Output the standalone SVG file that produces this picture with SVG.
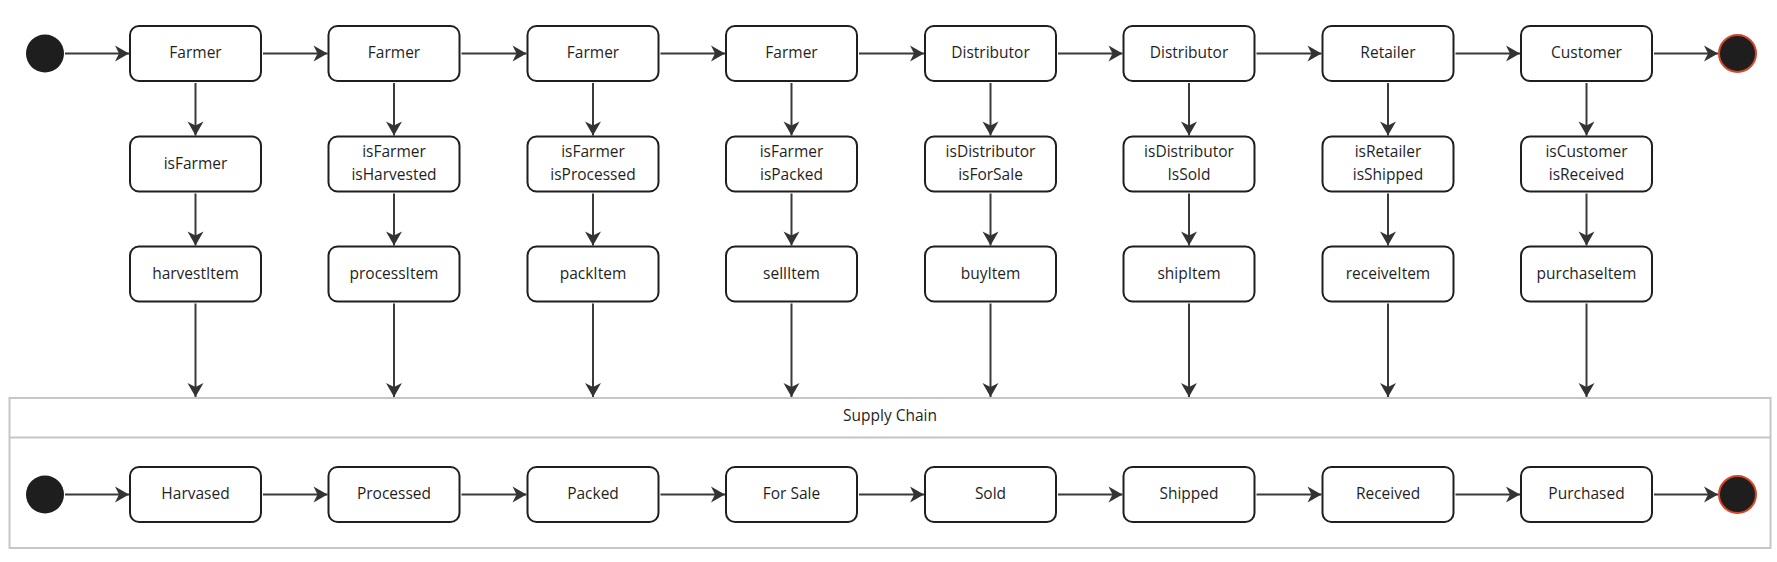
<svg xmlns="http://www.w3.org/2000/svg" width="1777" height="562" viewBox="0 0 1777 562">
<style>
.box{fill:#fff;stroke:#1f1f1f;stroke-width:2}
.t{font-family:"Open Sans","Noto Sans",sans-serif;font-size:15.5px;fill:#1f1f1f;text-anchor:middle;dominant-baseline:central}
.c{fill:none;stroke:#3a3a3a;stroke-width:2}
.start{fill:#1e1e1e}
.end{fill:#1e1e1e;stroke:#d5472b;stroke-width:2}
.frame{fill:#fff;stroke:#c6c6c6;stroke-width:2}
</style>
<defs>
<marker id="ah" markerUnits="userSpaceOnUse" markerWidth="16" markerHeight="18" viewBox="0 0 16 18" refX="15" refY="9" orient="auto">
<path d="M1,1 L15,9 L1,17 L5,9 Z" fill="#333"/>
</marker>
</defs>
<rect width="1777" height="562" fill="#fff"/>
<g id="supply-chain">
<rect class="frame" x="9.5" y="398" width="1761" height="150"/>
<line x1="9.5" y1="437.5" x2="1770.5" y2="437.5" stroke="#c6c6c6" stroke-width="2"/>
<text class="t" x="890" y="415">Supply Chain</text>
</g>
<g id="start-top"><circle class="start" cx="45" cy="53.5" r="19"/></g>
<g id="end-top"><circle class="end" cx="1737.5" cy="53.5" r="18.5"/></g>
<g id="start-bottom"><circle class="start" cx="45" cy="494.5" r="19"/></g>
<g id="end-bottom"><circle class="end" cx="1737.5" cy="494.5" r="18.5"/></g>
<g id="farmer1"><rect class="box" x="130" y="26" width="131" height="55" rx="9"/><text class="t" x="195.5" y="52">Farmer</text></g>
<g id="farmer2"><rect class="box" x="328.5" y="26" width="131" height="55" rx="9"/><text class="t" x="394" y="52">Farmer</text></g>
<g id="farmer3"><rect class="box" x="527.5" y="26" width="131" height="55" rx="9"/><text class="t" x="593" y="52">Farmer</text></g>
<g id="farmer4"><rect class="box" x="726" y="26" width="131" height="55" rx="9"/><text class="t" x="791.5" y="52">Farmer</text></g>
<g id="distributor1"><rect class="box" x="925" y="26" width="131" height="55" rx="9"/><text class="t" x="990.5" y="52">Distributor</text></g>
<g id="distributor2"><rect class="box" x="1123.5" y="26" width="131" height="55" rx="9"/><text class="t" x="1189" y="52">Distributor</text></g>
<g id="retailer"><rect class="box" x="1322.5" y="26" width="131" height="55" rx="9"/><text class="t" x="1388" y="52">Retailer</text></g>
<g id="customer"><rect class="box" x="1521" y="26" width="131" height="55" rx="9"/><text class="t" x="1586.5" y="52">Customer</text></g>
<g id="cond1"><rect class="box" x="130" y="136.5" width="131" height="55" rx="9"/><text class="t" x="195.5" y="162.5">isFarmer</text></g>
<g id="cond2"><rect class="box" x="328.5" y="136.5" width="131" height="55" rx="9"/><text class="t" x="394" y="151">isFarmer</text><text class="t" x="394" y="173.5">isHarvested</text></g>
<g id="cond3"><rect class="box" x="527.5" y="136.5" width="131" height="55" rx="9"/><text class="t" x="593" y="151">isFarmer</text><text class="t" x="593" y="173.5">isProcessed</text></g>
<g id="cond4"><rect class="box" x="726" y="136.5" width="131" height="55" rx="9"/><text class="t" x="791.5" y="151">isFarmer</text><text class="t" x="791.5" y="173.5">isPacked</text></g>
<g id="cond5"><rect class="box" x="925" y="136.5" width="131" height="55" rx="9"/><text class="t" x="990.5" y="151">isDistributor</text><text class="t" x="990.5" y="173.5">isForSale</text></g>
<g id="cond6"><rect class="box" x="1123.5" y="136.5" width="131" height="55" rx="9"/><text class="t" x="1189" y="151">isDistributor</text><text class="t" x="1189" y="173.5">IsSold</text></g>
<g id="cond7"><rect class="box" x="1322.5" y="136.5" width="131" height="55" rx="9"/><text class="t" x="1388" y="151">isRetailer</text><text class="t" x="1388" y="173.5">isShipped</text></g>
<g id="cond8"><rect class="box" x="1521" y="136.5" width="131" height="55" rx="9"/><text class="t" x="1586.5" y="151">isCustomer</text><text class="t" x="1586.5" y="173.5">isReceived</text></g>
<g id="fn1"><rect class="box" x="130" y="246.5" width="131" height="55" rx="9"/><text class="t" x="195.5" y="272.5">harvestItem</text></g>
<g id="fn2"><rect class="box" x="328.5" y="246.5" width="131" height="55" rx="9"/><text class="t" x="394" y="272.5">processItem</text></g>
<g id="fn3"><rect class="box" x="527.5" y="246.5" width="131" height="55" rx="9"/><text class="t" x="593" y="272.5">packItem</text></g>
<g id="fn4"><rect class="box" x="726" y="246.5" width="131" height="55" rx="9"/><text class="t" x="791.5" y="272.5">sellItem</text></g>
<g id="fn5"><rect class="box" x="925" y="246.5" width="131" height="55" rx="9"/><text class="t" x="990.5" y="272.5">buyItem</text></g>
<g id="fn6"><rect class="box" x="1123.5" y="246.5" width="131" height="55" rx="9"/><text class="t" x="1189" y="272.5">shipItem</text></g>
<g id="fn7"><rect class="box" x="1322.5" y="246.5" width="131" height="55" rx="9"/><text class="t" x="1388" y="272.5">receiveItem</text></g>
<g id="fn8"><rect class="box" x="1521" y="246.5" width="131" height="55" rx="9"/><text class="t" x="1586.5" y="272.5">purchaseItem</text></g>
<g id="s1"><rect class="box" x="130" y="467" width="131" height="55" rx="9"/><text class="t" x="195.5" y="493">Harvased</text></g>
<g id="s2"><rect class="box" x="328.5" y="467" width="131" height="55" rx="9"/><text class="t" x="394" y="493">Processed</text></g>
<g id="s3"><rect class="box" x="527.5" y="467" width="131" height="55" rx="9"/><text class="t" x="593" y="493">Packed</text></g>
<g id="s4"><rect class="box" x="726" y="467" width="131" height="55" rx="9"/><text class="t" x="791.5" y="493">For Sale</text></g>
<g id="s5"><rect class="box" x="925" y="467" width="131" height="55" rx="9"/><text class="t" x="990.5" y="493">Sold</text></g>
<g id="s6"><rect class="box" x="1123.5" y="467" width="131" height="55" rx="9"/><text class="t" x="1189" y="493">Shipped</text></g>
<g id="s7"><rect class="box" x="1322.5" y="467" width="131" height="55" rx="9"/><text class="t" x="1388" y="493">Received</text></g>
<g id="s8"><rect class="box" x="1521" y="467" width="131" height="55" rx="9"/><text class="t" x="1586.5" y="493">Purchased</text></g>
<g id="connectors" class="c" marker-end="url(#ah)">
<path d="M65,53.5 H129"/>
<path d="M263,53.5 H327.5"/>
<path d="M461.5,53.5 H526.5"/>
<path d="M660.5,53.5 H725"/>
<path d="M859,53.5 H924"/>
<path d="M1058,53.5 H1122.5"/>
<path d="M1256.5,53.5 H1321.5"/>
<path d="M1455.5,53.5 H1520"/>
<path d="M1654,53.5 H1718"/>
<path d="M65,494.5 H129"/>
<path d="M263,494.5 H327.5"/>
<path d="M461.5,494.5 H526.5"/>
<path d="M660.5,494.5 H725"/>
<path d="M859,494.5 H924"/>
<path d="M1058,494.5 H1122.5"/>
<path d="M1256.5,494.5 H1321.5"/>
<path d="M1455.5,494.5 H1520"/>
<path d="M1654,494.5 H1718"/>
<path d="M195.5,83 V135.5"/><path d="M195.5,193.5 V245.5"/><path d="M195.5,303.5 V397"/>
<path d="M394,83 V135.5"/><path d="M394,193.5 V245.5"/><path d="M394,303.5 V397"/>
<path d="M593,83 V135.5"/><path d="M593,193.5 V245.5"/><path d="M593,303.5 V397"/>
<path d="M791.5,83 V135.5"/><path d="M791.5,193.5 V245.5"/><path d="M791.5,303.5 V397"/>
<path d="M990.5,83 V135.5"/><path d="M990.5,193.5 V245.5"/><path d="M990.5,303.5 V397"/>
<path d="M1189,83 V135.5"/><path d="M1189,193.5 V245.5"/><path d="M1189,303.5 V397"/>
<path d="M1388,83 V135.5"/><path d="M1388,193.5 V245.5"/><path d="M1388,303.5 V397"/>
<path d="M1586.5,83 V135.5"/><path d="M1586.5,193.5 V245.5"/><path d="M1586.5,303.5 V397"/>
</g>
</svg>
